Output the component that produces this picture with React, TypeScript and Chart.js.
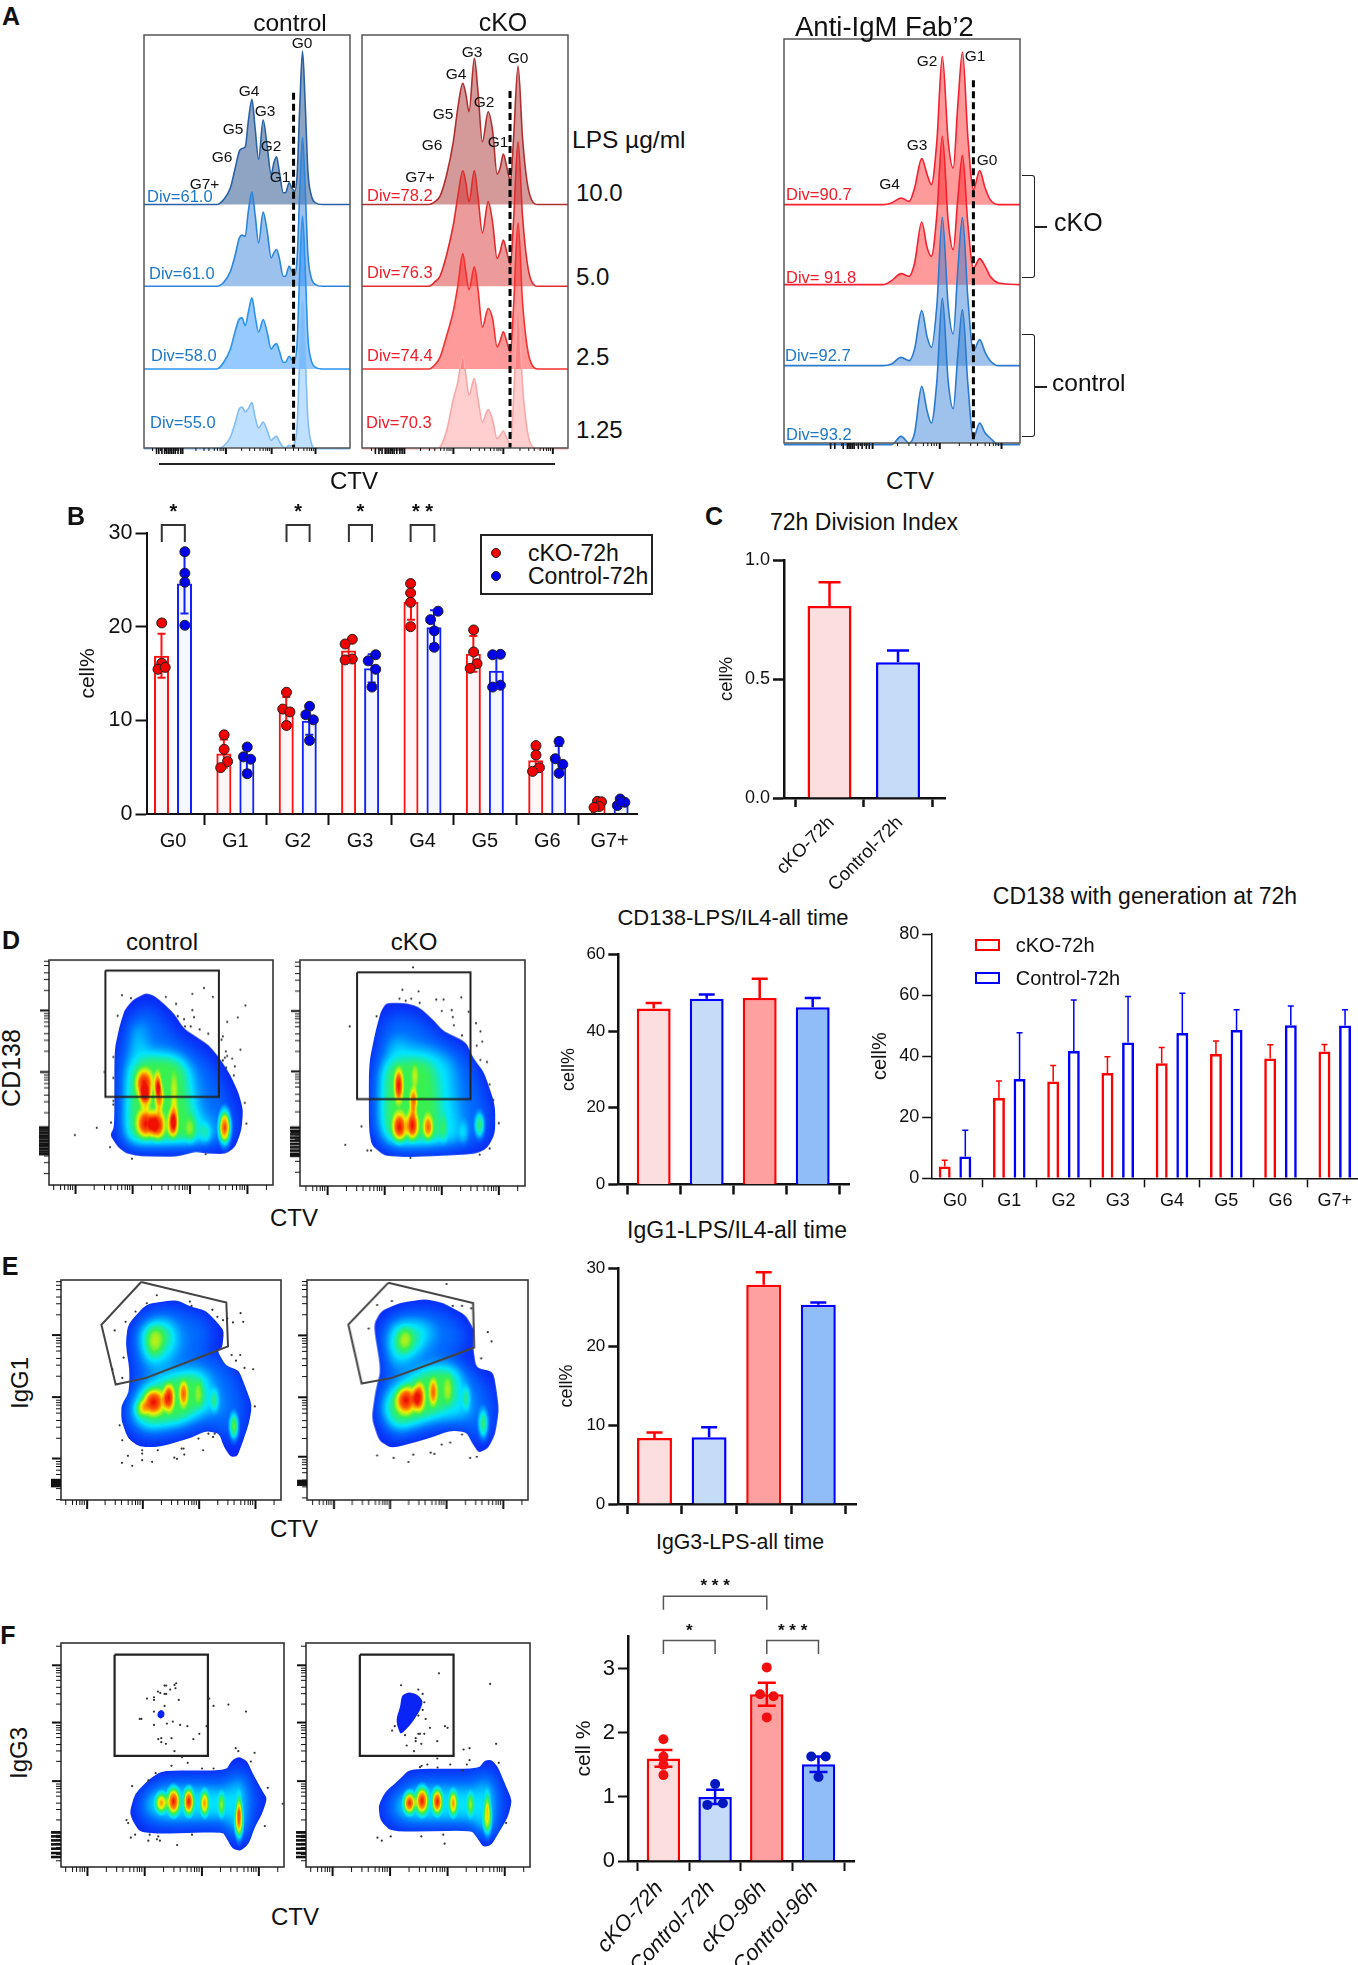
import React, { useEffect, useRef } from "react";
import { Chart, registerables } from "chart.js";

Chart.register(...registerables);
const FONT = '"Liberation Sans", Arial, sans-serif';
Chart.defaults.font.family = FONT;
Chart.defaults.color = "#111";

/* ---------- Panel A: histogram curves ---------- */
const ctrlX = [322,485,500,515,525,535,541,548,555,563,570,578,588,597,606,612,618,624,633,638,646,652,658,664,670,676,682,688,695,705,720,782];
const ctrl10 = [0,0,15,50,105,160,168,172,250,315,230,135,253,175,90,125,143,100,35,35,65,50,40,90,300,460,300,100,30,5,0,0];
const ctrl5 = [0,0,12,45,90,145,153,150,225,283,215,130,222,165,85,100,110,85,30,30,60,45,35,85,290,446,290,95,28,5,0,0];
const ctrl25 = [0,0,20,60,110,150,153,130,170,213,160,110,148,110,60,70,76,55,20,20,38,28,25,80,300,458,300,95,28,5,0,0];
const ctrl125 = [0,0,8,35,75,120,125,110,120,138,95,62,80,55,25,32,37,22,5,3,10,8,15,70,280,445,280,90,20,0,0,0];

const koX = [810,960,975,985,1000,1015,1025,1036,1043,1050,1062,1070,1080,1093,1103,1113,1120,1127,1135,1143,1150,1160,1170,1180,1190,1205,1272];
const ko10 = [0,0,10,25,90,190,290,363,330,278,438,340,188,278,220,91,110,151,110,70,200,415,200,70,15,0,0];
const ko5 = [0,0,15,30,95,185,270,346,310,253,346,270,160,254,190,83,105,138,100,65,200,433,210,75,15,0,0];
const ko25 = [0,0,15,35,100,175,250,346,290,238,306,240,126,181,150,66,85,111,80,50,190,438,200,70,15,0,0];
const ko125 = [0,0,0,5,55,150,200,280,220,160,210,150,80,117,85,30,40,53,30,15,150,430,190,60,10,0,0];

const fabX = [199,435,455,478,497,510,527,540,550,563,576,590,602,613,624,637,650,665,678,690,710,761];
const fabKo1 = [0,0,5,20,10,50,138,90,60,190,445,190,110,300,458,200,45,102,50,15,0,0];
const fabKo2 = [0,0,12,33,25,65,188,110,85,210,445,190,105,260,388,180,50,78,55,25,5,0];
const fabCt1 = [0,0,5,25,15,50,165,85,55,180,445,180,95,290,445,200,45,78,40,15,0,0];
const fabCt2 = [0,0,0,25,5,35,175,100,65,190,440,190,108,270,405,180,20,65,35,20,0,0];

const decadeMinor = [-0.67,-0.49,-0.38,-0.26,-0.19,-0.13,-0.09,-0.05];
const ctrlHistTicks = [408,505,607,705];
const ctrlHistClump = [350,355,362,368,372,376,380,384,388,392,398,404];
const koHistTicks = [905,1015,1127,1238];
const koHistClump = [840,848,855,862,866,870,874,878,882,888,895,900];
const fabTicks = [410,570,717];
const fabClump = [310,320,340,350,354,358,362,366,376,385,395,402];

/* ---------- Panel B ---------- */
const generations = ["G0","G1","G2","G3","G4","G5","G6","G7+"];
const bKo = [16.9,6.45,10.9,17.45,22.65,17.1,5.75,0.95];
const bCt = [24.6,5.85,9.95,15.55,19.95,15.3,5.75,1.3];
const bKoHi = [19.25,7.95,12.5,18.35,24.55,19,6.95,1.25];
const bKoLo = [14.55,4.95,9.3,16.55,20.75,15.2,4.55,0.65];
const bCtHi = [27.8,7.05,11.45,17.05,21.75,17.1,7.25,1.6];
const bCtLo = [21.4,4.65,8.45,14.05,18.15,13.5,4.25,1.0];
const bKoDots = [[-0.18,20.4],[-0.18,16.1],[-0.24,15.45],[-0.125,15.65],[0.82,8.45],[0.82,6.9],[0.875,5.6],[0.765,4.95],[1.82,13],[1.76,11.2],[1.875,10.9],[1.82,9.45],[2.875,18.65],[2.76,18.15],[2.875,16.55],[2.76,16.45],[3.81,24.6],[3.81,23.6],[3.81,22.6],[3.81,20],[4.82,19.65],[4.82,17.3],[4.875,16.05],[4.765,15.55],[5.82,7.3],[5.82,6.3],[5.875,4.95],[5.765,4.55],[6.805,1.35],[6.87,1.3],[6.835,0.8],[6.75,0.7]];
const bCtDots = [[0.19,28],[0.19,25.7],[0.19,24.75],[0.19,20.15],[1.19,7.15],[1.13,6.1],[1.245,5.85],[1.19,4.3],[2.19,11.5],[2.13,10.6],[2.25,10.05],[2.19,7.85],[3.25,17],[3.13,16.35],[3.25,15.45],[3.19,13.55],[4.25,21.65],[4.13,20.75],[4.19,19.55],[4.19,17.8],[5.25,17.05],[5.125,17],[5.25,13.75],[5.125,13.55],[6.19,7.75],[6.13,5.9],[6.25,5.3],[6.19,4.35],[7.17,1.6],[7.245,1.25],[7.125,0.9],[7.18,1.3]];

/* ---------- Panel C, D, E, F bars ---------- */
const cLabels = ["cKO-72h","Control-72h"];
const cValues = [0.807,0.57];
const cHi = [0.907,0.62];
const dValues = [45.9,48.4,48.6,46.2];
const dHi = [47.3,49.5,53.6,48.6];
const eValues = [8.4,8.5,27.9,25.35];
const eHi = [9.1,9.75,29.5,25.65];
const genKo = [3.9,26.3,31.7,34.5,37.7,40.7,39.2,41.5];
const genCt = [7.1,32.5,41.7,44.5,47.6,48.6,50.1,50];
const genKoHi = [5.9,31.9,36.9,39.8,42.8,45,43.7,43.8];
const genCtHi = [15.7,47.7,58.4,59.5,60.6,55.2,56.4,55.2];
const fLabels = ["cKO-72h","Control-72h","cKO-96h","Control-96h"];
const fValues = [1.6,1.0,2.6,1.51];
const fHi = [1.73,1.11,2.78,1.63];
const fLo = [1.47,0.89,2.42,1.39];
const fRedDots = [[0,1.9],[0,1.63],[0,1.5],[0,1.34],[2,3.02],[1.87,2.6],[2.13,2.57],[2,2.24]];
const fBlueDots = [[1,1.2],[0.85,0.875],[1.15,0.9],[2.86,1.63],[3.14,1.63],[3,1.31]];

/* ---------- Panels D, E, F: flow density plots ---------- */
const dCtOutline = [[320,128],[345,135],[375,160],[405,190],[435,235],[470,258],[510,285],[540,320],[575,375],[600,430],[613,480],[608,540],[590,590],[560,612],[500,610],[470,605],[410,620],[300,618],[260,610],[235,590],[212,555],[225,530],[225,300],[240,230],[255,180],[280,148]];
const dCtBlue = [[300,170],[340,165],[400,250],[470,300],[520,340],[560,430],[590,500],[585,570],[500,590],[260,595],[240,540],[240,320],[270,210]];
const dCtCyan = [[280,215],[305,215],[320,295],[350,300],[420,310],[465,360],[480,480],[520,520],[535,585],[270,590],[250,550],[255,350],[275,300]];
const dCtGreen = [[270,355],[320,320],[400,320],[440,350],[450,450],[470,520],[470,575],[280,578],[262,540]];
const dCtSpots = [[500,550,20,32,1],[455,540,18,40,1],[405,420,12,50,1],[405,500,14,50,2],[355,400,12,35,3],[360,440,15,42,3],[315,400,30,42,4],[318,442,20,30,3],[400,522,18,40,3],[320,520,32,42,4],[355,525,25,42,4],[558,533,22,55,6]];
const dCtDots = [[248,134],[275,143],[380,139],[460,130],[495,112],[522,139],[620,165],[411,160],[460,179],[597,201],[235,196],[416,197],[435,206],[465,200],[565,214],[438,228],[455,228],[482,237],[508,250],[552,258],[548,268],[605,298],[561,303],[558,322],[565,317],[580,325],[552,330],[562,352],[588,348],[585,375],[222,320],[195,365],[222,383],[222,452],[222,463],[618,458],[215,517],[172,533],[106,555],[623,520],[212,591],[278,626],[500,612]];
const dCtGate = [[198,60],[540,60],[540,440],[198,440],[198,60]];

const dKoOutline = [[1045,250],[1090,250],[1130,258],[1170,290],[1200,320],[1260,345],[1280,385],[1310,420],[1340,500],[1340,570],[1320,605],[1290,620],[1200,625],[1100,628],[1040,625],[1005,600],[997,560],[997,400],[1015,320],[1030,270]];
const dKoBlue = [[1050,275],[1120,280],[1200,345],[1260,370],[1300,450],[1325,540],[1310,600],[1050,612],[1012,570],[1012,400],[1030,320]];
const dKoCyan = [[1065,330],[1090,350],[1190,370],[1225,400],[1235,500],[1260,600],[1050,610],[1018,560],[1020,420],[1045,380]];
const dKoGreen = [[1040,395],[1150,385],[1180,420],[1190,520],[1195,590],[1050,590],[1035,540]];
const dKoSpots = [[1255,570,15,30,1],[1298,550,16,32,4],[1200,560,12,35,1],[1122,430,10,30,1],[1118,490,12,30,3],[1078,453,14,40,4],[1158,555,15,30,3],[1080,555,22,35,4],[1115,550,18,35,4]];
const dKoDots = [[1117,163],[1088,218],[1132,222],[1080,240],[1097,245],[1112,240],[1135,250],[1180,242],[1200,242],[1248,237],[1222,268],[1195,270],[1225,285],[1228,305],[1268,272],[1250,330],[1288,300],[1300,320],[1305,345],[1290,355],[1300,390],[1318,395],[945,308],[1018,283],[1325,450],[1335,488],[1350,545],[977,553],[933,598],[993,612],[1003,612],[1110,630],[1325,607],[1298,622]];
const dKoGate = [[965,175],[1273,175],[1273,486],[965,486],[965,175]];

const eCtOutline = [[350,90],[385,88],[420,105],[470,120],[500,150],[525,180],[520,230],[505,240],[530,285],[570,300],[590,350],[610,405],[600,460],[580,520],[565,558],[545,560],[525,530],[510,490],[470,482],[420,505],[330,530],[270,530],[235,505],[215,450],[215,405],[238,365],[240,300],[228,220],[235,160],[290,100]];
const eCtBlue = [[350,105],[420,125],[470,145],[495,190],[450,260],[510,260],[560,315],[590,410],[570,490],[555,530],[530,490],[480,465],[400,490],[290,510],[240,480],[232,410],[260,350],[255,290],[245,190],[280,125]];
const eCtCyanA = [[310,140],[370,145],[395,200],[375,265],[310,305],[275,250],[265,180]];
const eCtCyanB = [[270,345],[380,300],[465,290],[505,370],[510,420],[470,430],[400,470],[290,485],[245,450],[240,400]];
const eCtGreenA = [[290,165],[345,160],[370,205],[330,250],[300,270],[280,210]];
const eCtGreenB = [[290,350],[390,310],[455,310],[470,400],[400,450],[290,465],[260,435],[258,400]];
const eCtSpots = [[497,390,14,35,2],[315,212,30,45,1],[450,370,14,40,1],[555,470,16,42,5],[275,415,20,25,2],[403,370,14,38,3],[358,382,18,40,4],[312,395,35,38,4]];
const eCtDots = [[322,73],[292,97],[422,92],[427,105],[490,117],[505,138],[522,148],[535,143],[575,127],[552,155],[583,153],[195,179],[228,153],[258,122],[222,261],[188,296],[218,322],[518,195],[548,253],[574,253],[561,270],[587,292],[613,296],[618,408],[210,465],[218,510],[235,557],[217,578],[248,587],[278,540],[278,550],[278,570],[308,575],[325,540],[375,562],[383,566],[397,535],[403,535],[405,553],[462,540],[448,505],[478,490],[492,500],[497,490]];
const eCtGate = [[275,33],[532,95],[537,227],[430,268],[290,322],[198,342],[155,162],[275,33]];

const eKoOutline = [[1080,985],[1150,975],[1200,985],[1260,1015],[1282,1050],[1280,1095],[1288,1145],[1335,1155],[1345,1210],[1350,1250],[1340,1310],[1320,1345],[1295,1355],[1280,1335],[1262,1305],[1220,1300],[1160,1320],[1060,1345],[1025,1325],[1005,1270],[1015,1205],[1030,1150],[1010,1040],[1030,1005]];
const eKoBlue = [[1080,1000],[1190,1000],[1250,1040],[1270,1090],[1200,1110],[1280,1150],[1325,1200],[1340,1260],[1315,1330],[1290,1330],[1260,1290],[1170,1295],[1060,1325],[1025,1280],[1030,1200],[1045,1130],[1025,1050]];
const eKoCyanA = [[1060,1025],[1150,1025],[1180,1060],[1130,1120],[1060,1150],[1040,1080]];
const eKoCyanB = [[1040,1200],[1150,1140],[1240,1130],[1270,1220],[1270,1270],[1170,1280],[1070,1310],[1030,1260]];
const eKoGreenA = [[1075,1045],[1130,1050],[1130,1090],[1080,1120],[1060,1090]];
const eKoGreenB = [[1055,1210],[1150,1150],[1230,1150],[1235,1230],[1150,1270],[1070,1290],[1040,1250]];
const eKoSpots = [[1262,1220,12,30,2],[1308,1285,15,38,4],[1095,1075,22,30,1],[1213,1200,13,35,1],[1172,1205,12,32,3],[1133,1218,17,34,4],[1098,1225,30,33,4]];
const eKoDots = [[1208,938],[1020,990],[1060,980],[1225,992],[1250,992],[1275,998],[997,1048],[1320,1057],[1330,1080],[1302,1122],[1020,1362],[1065,1368],[1105,1378],[1118,1360],[1165,1355],[1175,1358],[1195,1335],[1218,1330],[1250,1310],[1272,1368],[1290,1365]];
const eKoGate = [[1050,935],[1280,985],[1283,1095],[1180,1130],[1060,1170],[978,1184],[942,1038],[1050,935]];

const fCtOutline = [[340,420],[530,420],[548,390],[570,378],[595,392],[612,430],[640,480],[655,505],[640,550],[618,590],[600,640],[575,662],[550,655],[530,620],[520,605],[330,610],[270,605],[248,570],[240,545],[255,490],[300,445]];
const fCtBlob = [[335,237],[345,245],[344,258],[332,265],[323,257],[325,244]];
const fCtBlue = [[345,440],[540,440],[565,400],[590,420],[610,480],[630,510],[600,570],[590,630],[565,645],[540,610],[530,590],[290,590],[262,545],[280,480]];
const fCtCyan = [[300,490],[350,465],[500,475],[540,480],[555,470],[555,440],[585,440],[590,500],[595,590],[570,620],[545,590],[540,560],[500,565],[340,570],[285,540],[285,510]];
const fCtSpots = [[570,520,14,40,1],[517,523,16,36,2],[466,518,20,38,3],[335,517,28,30,3],[418,513,24,40,4],[372,512,30,42,4],[570,575,20,55,4]];
const fCtDots = [[345,165],[350,165],[375,163],[380,158],[362,177],[378,173],[325,183],[332,187],[345,190],[350,190],[292,204],[313,200],[313,208],[388,208],[345,226],[313,243],[270,265],[275,265],[352,279],[370,273],[392,283],[414,287],[313,283],[472,287],[450,310],[432,326],[366,323],[335,323],[326,326],[335,335],[349,340],[375,362],[398,380],[480,204],[493,226],[538,222],[591,243],[560,353],[568,362],[617,367],[606,393],[415,397],[366,406],[458,414],[493,414],[318,428],[296,450],[247,467],[657,472],[702,520],[648,587],[230,569],[235,578],[256,613],[243,622],[300,613],[296,631],[326,618],[322,627],[331,631],[383,644],[428,613]];
const fKoOutline = [[345,415],[550,415],[570,390],[590,388],[610,410],[635,470],[652,510],[640,560],[610,610],[590,645],[565,650],[545,620],[530,600],[290,605],[255,570],[250,525],[270,485],[310,450]];
const fKoBlob = [[340,185],[365,190],[385,212],[375,240],[350,278],[325,305],[315,310],[305,280],[305,260],[315,230],[320,195]];
const fKoBlue = [[350,435],[550,435],[570,405],[590,410],[615,480],[630,515],[605,580],[585,630],[565,630],[545,590],[300,590],[268,555],[270,510],[310,470]];
const fKoCyan = [[310,500],[360,468],[500,475],[560,480],[560,440],[590,450],[600,540],[595,610],[565,620],[540,570],[500,570],[340,572],[300,545]];
const fKoSpots = [[578,510,14,35,1],[527,522,16,35,2],[475,518,20,38,3],[343,517,28,33,4],[427,513,24,38,4],[381,510,30,42,4],[578,565,20,52,3]];
const fKoDots = [[432,128],[318,164],[370,177],[383,190],[388,215],[383,238],[370,255],[392,265],[405,292],[450,287],[458,292],[299,287],[291,300],[330,314],[370,310],[375,310],[388,310],[362,323],[362,332],[427,332],[379,340],[335,345],[357,362],[586,160],[604,340],[506,357],[524,353],[524,389],[516,402],[612,397],[427,384],[397,402],[375,410],[380,406],[428,411],[466,402],[503,420],[634,578],[247,622],[260,631],[287,618],[379,618],[445,613],[449,640]];
const fGate = [[194,72],[476,72],[476,376],[194,376],[194,72]];

const zoomClump = [532,540,548,556,564,572,580,588,596,604,612];
const koClump = [1425,1428,1431,1434];

/* density palette (rainbow) and the height each spot level adds */
const jetStops = [[0,10,36,246],[0.2,0,110,255],[0.4,0,228,255],[0.6,56,240,80],[0.75,240,240,0],[0.88,255,120,0],[1,240,16,0]];
const spotPeak = [0,0.12,0.2,0.32,0.42,0.52,0.8];
const spotFalloff = [[0,1],[0.4,0.75],[0.7,0.3],[1,0]];
const SPOT_SCALE = 1.4;
const layerHeight = 51;

function jetColor(t: number) {
  for (let i = 1; i < jetStops.length; i++) {
    if (t <= jetStops[i][0]) {
      const a = jetStops[i - 1], b = jetStops[i];
      const f = (t - a[0]) / (b[0] - a[0]);
      return [a[1] + (b[1] - a[1]) * f, a[2] + (b[2] - a[2]) * f, a[3] + (b[3] - a[3]) * f];
    }
  }
  return jetStops[jetStops.length - 1].slice(1);
}

/* ---------- plugins (per chart) ---------- */
function frameTicks(spec: any) {
  return {
    id: "frameTicks",
    afterDraw(chart: any) {
      const { ctx, chartArea: a, scales: { x, y } } = chart;
      ctx.save();
      ctx.strokeStyle = spec.frame || "#444";
      ctx.lineWidth = spec.frameWidth || 1.5;
      ctx.strokeRect(a.left, a.top, a.right - a.left, a.bottom - a.top);
      ctx.strokeStyle = "#111";
      const line = (x0: number, y0: number, x1: number, y1: number, w: number) => {
        ctx.lineWidth = w; ctx.beginPath(); ctx.moveTo(x0, y0); ctx.lineTo(x1, y1); ctx.stroke();
      };
      const b = spec.bottom;
      if (b) {
        const inside = (px: number) => px >= a.left && px <= a.right;
        b.majors.forEach((m: number) => {
          const p = x.getPixelForValue(m);
          if (inside(p)) line(p, a.bottom, p, a.bottom + b.majorLen, 2);
          decadeMinor.forEach((f) => {
            const q = x.getPixelForValue(m + f * b.dec);
            if (inside(q)) line(q, a.bottom, q, a.bottom + b.minorLen, 1);
          });
        });
        (b.clump || []).forEach((c: number) => {
          const p = x.getPixelForValue(c);
          line(p, a.bottom, p, a.bottom + b.majorLen, 1.6);
        });
      }
      const l = spec.left;
      if (l) {
        const inside = (py: number) => py >= a.top && py <= a.bottom;
        l.majors.forEach((m: number) => {
          const p = y.getPixelForValue(m);
          if (inside(p)) line(a.left, p, a.left - 9, p, 2);
          decadeMinor.forEach((f) => {
            const q = y.getPixelForValue(m - f * l.dec);
            if (inside(q)) line(a.left, q, a.left - 5, q, 1);
          });
        });
        (l.clump || []).forEach((c: number) => {
          const p = y.getPixelForValue(c);
          line(a.left, p, a.left - 10, p, 2.6);
        });
      }
      ctx.restore();
    },
  };
}

function density(spec: any) {
  return {
    id: "density",
    beforeDatasetsDraw(chart: any) {
      const { ctx, scales: { x, y } } = chart;
      const W = chart.width, H = chart.height;
      const path = (c: any, pts: number[][]) => {
        const P = pts.map(([a, b]) => [x.getPixelForValue(a), y.getPixelForValue(b)]);
        const n = P.length;
        const toward = (p: number[], q: number[]) => [p[0] + (q[0] - p[0]) * 0.3, p[1] + (q[1] - p[1]) * 0.3];
        P.forEach((p, i) => {
          const a = toward(p, P[(i + n - 1) % n]);
          const b = toward(p, P[(i + 1) % n]);
          if (i === 0) c.moveTo(a[0], a[1]); else c.lineTo(a[0], a[1]);
          c.quadraticCurveTo(p[0], p[1], b[0], b[1]);
        });
        c.closePath();
      };
      /* height field, kept in the red channel and added up */
      const field = document.createElement("canvas");
      field.width = W; field.height = H;
      const f = field.getContext("2d", { willReadFrequently: true }) as any;
      f.fillStyle = "#000";
      f.fillRect(0, 0, W, H);
      f.globalCompositeOperation = "lighter";
      spec.layers.forEach((l: any) => {
        f.filter = `blur(${l.blur}px)`;
        f.fillStyle = `rgb(${layerHeight},0,0)`;
        f.beginPath();
        l.polys.forEach((p: number[][]) => path(f, p));
        f.fill();
      });
      f.filter = "none";
      const boost = spec.boost || 1;
      const narrow = spec.narrow || 1;
      spec.spots.forEach(([cx, cy, rx, ry, level]: number[]) => {
        const px = x.getPixelForValue(cx), py = y.getPixelForValue(cy);
        const w = Math.abs(x.getPixelForValue(cx + rx) - px) * SPOT_SCALE * narrow, h = Math.abs(y.getPixelForValue(cy + ry) - py) * SPOT_SCALE;
        f.save();
        f.translate(px, py);
        f.scale(w, h);
        const g = f.createRadialGradient(0, 0, 0, 0, 0, 1);
        spotFalloff.forEach(([o, v]) => g.addColorStop(o, `rgba(255,0,0,${Math.min(1, spotPeak[level] * boost * v)})`));
        f.fillStyle = g;
        f.beginPath();
        f.arc(0, 0, 1, 0, Math.PI * 2);
        f.fill();
        f.restore();
      });
      const img = f.getImageData(0, 0, W, H);
      const d = img.data;
      for (let i = 0; i < d.length; i += 4) {
        const c = jetColor(d[i] / 255);
        d[i] = c[0]; d[i + 1] = c[1]; d[i + 2] = c[2]; d[i + 3] = 255;
      }
      f.globalCompositeOperation = "source-over";
      f.putImageData(img, 0, 0);
      ctx.save();
      ctx.beginPath();
      spec.outline.forEach((p: number[][]) => path(ctx, p));
      ctx.clip();
      ctx.drawImage(field, 0, 0, W, H);
      ctx.restore();
    },
  };
}

const errorBars = {
  id: "errorBars",
  afterDatasetDraw(chart: any, args: any) {
    const ds = chart.data.datasets[args.index];
    if (!ds.errHi) return;
    const { ctx, scales: { y } } = chart;
    ctx.save();
    args.meta.data.forEach((el: any, i: number) => {
      const col = Array.isArray(ds.borderColor) ? ds.borderColor[i] : ds.borderColor;
      ctx.strokeStyle = col;
      ctx.lineWidth = ds.errWidth;
      const ends = [ds.errHi[i]];
      if (ds.errLo) ends.push(ds.errLo[i]);
      ends.forEach((v: number) => {
        const p = y.getPixelForValue(v);
        ctx.beginPath();
        ctx.moveTo(el.x, y.getPixelForValue(ds.data[i].y));
        ctx.lineTo(el.x, p);
        ctx.moveTo(el.x - ds.capW, p);
        ctx.lineTo(el.x + ds.capW, p);
        ctx.stroke();
      });
    });
    ctx.restore();
  },
};

function sigMarks(list: any[], opt: any) {
  return {
    id: "sig",
    afterDraw(chart: any) {
      const { ctx, scales: { x, y } } = chart;
      ctx.save();
      ctx.strokeStyle = opt.color;
      ctx.lineWidth = opt.width;
      ctx.fillStyle = "#111";
      ctx.font = `bold ${opt.size}px ${FONT}`;
      ctx.textAlign = "center";
      ctx.textBaseline = "middle";
      list.forEach((s) => {
        const a = x.getPixelForValue(s.x0), b = x.getPixelForValue(s.x1);
        ctx.beginPath();
        ctx.moveTo(a, y.getPixelForValue(s.arm));
        ctx.lineTo(a, y.getPixelForValue(s.top));
        ctx.lineTo(b, y.getPixelForValue(s.top));
        ctx.lineTo(b, y.getPixelForValue(s.arm));
        ctx.stroke();
        ctx.fillText(s.text, (a + b) / 2, y.getPixelForValue(s.textY) + opt.size * 0.2);
      });
      ctx.restore();
    },
  };
}

/* ---------- chart builders ---------- */
function histChart(o: any) {
  const pad = { left: 4, right: 4, top: 4, bottom: 12 };
  const curves = o.curves.map((c: any, i: number) => ({
    type: "line",
    data: o.x.map((v: number, k: number) => ({ x: v, y: c.base + c.h[k] })),
    borderColor: c.stroke,
    backgroundColor: c.fill,
    borderWidth: 1.6,
    pointRadius: 0,
    cubicInterpolationMode: "monotone",
    fill: { value: c.base },
    order: 10 - i,
    clip: 5,
  }));
  const dash = {
    type: "line",
    data: [{ x: o.dash[0], y: o.dash[1] }, { x: o.dash[0], y: 0 }],
    borderColor: "#000",
    borderWidth: 3,
    borderDash: [7, 4],
    pointRadius: 0,
    fill: false,
    order: 0,
  };
  return {
    type: "line",
    data: { datasets: [...curves, dash] },
    options: {
      responsive: false, animation: false, devicePixelRatio: 1, events: [],
      layout: { padding: pad },
      plugins: { legend: { display: false }, tooltip: { enabled: false } },
      scales: {
        x: { type: "linear", display: false, min: o.x[0], max: o.x[o.x.length - 1] },
        y: { type: "linear", display: false, min: 0, max: o.yMax },
      },
    },
    plugins: [frameTicks({ frame: "#555", bottom: o.bottom })],
  };
}

function flowChart(o: any) {
  const pad = { left: 12, right: 3, top: 3, bottom: 12 };
  const datasets: any[] = [
    { type: "scatter", data: o.gate.map(([x, y]: number[]) => ({ x, y })), showLine: true, tension: 0, borderColor: o.gateColor || "#222", borderWidth: o.gateWidth || 2, pointRadius: 0, order: 2, clip: false },
    { type: "scatter", data: o.dots.map(([x, y]: number[]) => ({ x, y })), pointRadius: 1.1, pointBackgroundColor: "#333", pointBorderWidth: 0, order: 1, clip: false },
  ];
  return {
    type: "scatter",
    data: { datasets },
    options: {
      responsive: false, animation: false, devicePixelRatio: 1, events: [],
      layout: { padding: pad },
      plugins: { legend: { display: false }, tooltip: { enabled: false } },
      scales: {
        x: { type: "linear", display: false, min: o.xr[0], max: o.xr[1] },
        y: { type: "linear", display: false, min: o.yr[0], max: o.yr[1], reverse: true },
      },
    },
    plugins: [density(o), frameTicks({ frame: "#333", frameWidth: 1.6, bottom: o.bottom, left: o.leftTicks })],
  };
}
const flowBox = (l: number, t: number, r: number, b: number) => [l - 12, t - 3, r + 3, b + 12];

function barChart(o: any) {
  const [cl, ct, cr, cb] = o.box;
  const [pl, pt, pr, pb] = o.plot;
  const bars = o.series.map((s: any) => ({
    type: "bar",
    data: s.values.map((v: number, i: number) => ({ x: i, y: v })),
    backgroundColor: s.fill,
    borderColor: s.color,
    borderWidth: o.barBorder,
    categoryPercentage: o.catPct,
    barPercentage: o.barPct,
    errHi: s.hi,
    errLo: s.lo,
    errWidth: o.errWidth,
    capW: o.capW,
    order: 5,
    clip: false,
  }));
  const dots = (o.dots || []).map((d: any) => ({
    type: "scatter",
    data: d.pts.map(([x, y]: number[]) => ({ x, y })),
    pointRadius: d.r,
    pointBackgroundColor: d.color,
    pointBorderColor: d.edge,
    pointBorderWidth: d.edgeW,
    order: 1,
    clip: false,
  }));
  return {
    type: "bar",
    data: { datasets: [...bars, ...dots] },
    options: {
      responsive: false, animation: false, devicePixelRatio: 1, events: [],
      layout: { padding: { left: 0, top: pt - ct, right: cr - pr, bottom: 0 } },
      plugins: { legend: { display: false }, tooltip: { enabled: false } },
      scales: {
        x: {
          type: "linear",
          offset: false,
          min: -(o.c0 - pl) / o.sp,
          max: (pr - o.c0) / o.sp,
          afterBuildTicks: (s: any) => { s.ticks = o.labels.map((_: any, i: number) => ({ value: i })); },
          afterFit: (s: any) => { s.height = cb - pb; },
          grid: { drawOnChartArea: false, drawTicks: true, tickLength: o.xTickLen, tickWidth: o.tickW, tickColor: "#111" },
          border: { color: "#111", width: o.axisW },
          ticks: {
            autoSkip: false,
            maxRotation: o.rot || 0,
            minRotation: o.rot || 0,
            padding: o.xPad,
            labelOffset: o.labelOffset || 0,
            color: "#111",
            font: { size: o.xFont, style: o.italic ? "italic" : "normal" },
            callback: (v: number) => o.labels[v] ?? "",
          },
        },
        y: {
          type: "linear",
          min: 0,
          max: o.yMax,
          afterBuildTicks: (s: any) => { s.ticks = o.yTicks.map((v: number) => ({ value: v })); },
          afterFit: (s: any) => { s.width = pl - cl; },
          grid: { drawOnChartArea: false, drawTicks: true, tickLength: o.yTickLen, tickWidth: o.tickW, tickColor: "#111" },
          border: { color: "#111", width: o.axisW },
          title: { display: true, text: o.yTitle, color: "#111", padding: 0, font: { size: o.yTitleFont } },
          ticks: {
            padding: o.yPad,
            color: "#111",
            font: { size: o.yFont },
            callback: (v: number) => (o.yFixed ? v.toFixed(o.yFixed) : String(v)),
          },
        },
      },
    },
    plugins: [errorBars, ...(o.sig ? [sigMarks(o.sig, o.sigOpt)] : [])],
  };
}

/* ---------- components ---------- */
function Plot({ box, make }: any) {
  const ref = useRef<HTMLCanvasElement>(null);
  useEffect(() => {
    const c = new Chart(ref.current as any, make());
    return () => c.destroy();
  }, []);
  const [l, t, r, b] = box;
  return <canvas ref={ref} width={r - l} height={b - t} style={{ position: "absolute", left: l, top: t, width: r - l, height: b - t }} />;
}

function T({ x, y, s, size = 15, color = "#111", bold = false, anchor = "c", rot = 0 }: any) {
  const tx = anchor === "l" ? "0" : "-50%";
  return (
    <div style={{ position: "absolute", left: x, top: y, transform: `translate(${tx},-50%) rotate(${rot}deg)`, fontSize: size, color, fontWeight: bold ? 700 : 400, lineHeight: 1, whiteSpace: "nowrap" }}>
      {s}
    </div>
  );
}

function Shape({ l, t, w, h, style }: any) {
  return <div style={{ position: "absolute", left: l, top: t, width: w, height: h, boxSizing: "border-box", ...style }} />;
}

const BLUE_TXT = "#1e78c8";
const RED_TXT = "#f01c28";
const fillPink = "#fddede", fillSky = "#c5dcf8", fillRose = "#ffa0a0", fillAzure = "#90bdf8";
const four = { color: ["#ff0000","#0000ff","#ff0000","#0000ff"], fill: [fillPink, fillSky, fillRose, fillAzure] };

const histBox = (l: number, t: number, r: number, b: number) => [l - 4, t - 4, r + 4, b + 12];

const flowLayers = (blue: any, cyan: any[], green: any[]) => [
  { blur: 9, polys: [blue] },
  { blur: 7, polys: cyan },
  ...(green.length ? [{ blur: 6, polys: green }] : []),
];

const PLOTS: any[] = [
  { box: histBox(144, 35, 350, 448), make: () => histChart({ x: ctrlX, yMax: 1238, dash: [656, 1065], bottom: { majors: ctrlHistTicks, dec: 100, majorLen: 6, minorLen: 3, clump: ctrlHistClump }, curves: [
    { h: ctrl10, base: 730, stroke: "#2a62a8", fill: "rgba(50,90,145,0.55)" },
    { h: ctrl5, base: 485, stroke: "#2a86dc", fill: "rgba(45,125,215,0.48)" },
    { h: ctrl25, base: 237, stroke: "#2b92ee", fill: "rgba(30,140,255,0.47)" },
    { h: ctrl125, base: -2, stroke: "#82bdf6", fill: "rgba(60,160,255,0.33)" },
  ] }) },
  { box: histBox(362, 35, 568, 448), make: () => histChart({ x: koX, yMax: 1238, dash: [1142, 1070], bottom: { majors: koHistTicks, dec: 110, majorLen: 6, minorLen: 3, clump: koHistClump }, curves: [
    { h: ko10, base: 730, stroke: "#b03030", fill: "rgba(160,30,30,0.45)" },
    { h: ko5, base: 485, stroke: "#e02c2c", fill: "rgba(215,30,30,0.45)" },
    { h: ko25, base: 237, stroke: "#f53030", fill: "rgba(255,30,30,0.45)" },
    { h: ko125, base: -2, stroke: "#f8a8a8", fill: "rgba(255,60,60,0.25)" },
  ] }) },
  { box: histBox(784, 38.7, 1020, 443), make: () => histChart({ x: fabX, yMax: 1212, dash: [650, 1088], bottom: { majors: fabTicks, dec: 150, majorLen: 6, minorLen: 3, clump: fabClump }, curves: [
    { h: fabKo1, base: 715, stroke: "#f52030", fill: "rgba(255,30,30,0.45)" },
    { h: fabKo2, base: 475, stroke: "#f52030", fill: "rgba(255,30,30,0.45)" },
    { h: fabCt1, base: 232, stroke: "#2a7ad0", fill: "rgba(40,120,210,0.45)" },
    { h: fabCt2, base: -5, stroke: "#2a7ad0", fill: "rgba(40,120,210,0.45)" },
  ] }) },
  { box: [76, 490, 660, 860], make: () => barChart({
    box: [76, 490, 660, 860], plot: [146.5, 533, 637, 814], c0: 173, sp: 62.37, labels: generations, yMax: 30, yTicks: [0,10,20,30],
    series: [
      { values: bKo, hi: bKoHi, lo: bKoLo, color: "#ff1010", fill: "rgba(255,0,0,0.03)" },
      { values: bCt, hi: bCtHi, lo: bCtLo, color: "#1020ff", fill: "rgba(0,60,255,0.04)" },
    ],
    dots: [
      { pts: bKoDots, r: 5, color: "#f00000", edge: "#222", edgeW: 1 },
      { pts: bCtDots, r: 5, color: "#0000e8", edge: "#222", edgeW: 1 },
    ],
    barBorder: 2, catPct: 0.738, barPct: 0.652, errWidth: 2, capW: 4, axisW: 2, tickW: 2, xTickLen: 11, yTickLen: 11, xPad: 4, yPad: 3,
    xFont: 20, yFont: 21.5, yTitle: "cell%", yTitleFont: 21,
    sig: [
      { x0: -0.18, x1: 0.19, top: 30.85, arm: 29.05, textY: 32.6, text: "*" },
      { x0: 1.82, x1: 2.19, top: 30.85, arm: 29.05, textY: 32.6, text: "*" },
      { x0: 2.82, x1: 3.19, top: 30.85, arm: 29.05, textY: 32.6, text: "*" },
      { x0: 3.81, x1: 4.19, top: 30.85, arm: 29.05, textY: 32.6, text: "* *" },
    ],
    sigOpt: { color: "#333", width: 2, size: 20 },
  }) },
  { box: [716, 540, 960, 900], make: () => barChart({
    box: [716, 540, 960, 900], plot: [784, 560, 945, 798], c0: 829.5, sp: 68.5, labels: cLabels, yMax: 1, yTicks: [0,0.5,1], yFixed: 1,
    series: [{ values: cValues, hi: cHi, color: ["#ff0000","#0000ff"], fill: [fillPink, fillSky] }],
    barBorder: 2.5, catPct: 1, barPct: 0.642, errWidth: 2.5, capW: 11, axisW: 2.5, tickW: 2.5, xTickLen: 9, yTickLen: 11, xPad: 5, yPad: 3, labelOffset: 2,
    xFont: 18.5, yFont: 18, yTitle: "cell%", yTitleFont: 18.5, rot: 45,
  }) },
  { box: [558, 940, 860, 1205], make: () => barChart({
    box: [558, 940, 860, 1205], plot: [618.3, 954.3, 849, 1184.5], c0: 653.7, sp: 53, labels: ["","","",""], yMax: 60, yTicks: [0,20,40,60],
    series: [{ values: dValues, hi: dHi, ...four }],
    barBorder: 2.5, catPct: 1, barPct: 0.64, errWidth: 2.5, capW: 8, axisW: 2.5, tickW: 2.5, xTickLen: 10, yTickLen: 10, xPad: 2, yPad: 3,
    xFont: 10, yFont: 17, yTitle: "cell%", yTitleFont: 18,
  }) },
  { box: [556, 1255, 866, 1525], make: () => barChart({
    box: [556, 1255, 866, 1525], plot: [618.3, 1267, 856, 1504], c0: 654.5, sp: 54.6, labels: ["","","",""], yMax: 30, yTicks: [0,10,20,30],
    series: [{ values: eValues, hi: eHi, ...four }],
    barBorder: 2.5, catPct: 1, barPct: 0.64, errWidth: 2.5, capW: 8, axisW: 2.5, tickW: 2.5, xTickLen: 10, yTickLen: 10, xPad: 2, yPad: 3,
    xFont: 10, yFont: 17, yTitle: "cell%", yTitleFont: 18,
  }) },
  { box: [868, 920, 1358, 1215], make: () => barChart({
    box: [868, 920, 1358, 1215], plot: [931.7, 934, 1358, 1178.3], c0: 955, sp: 54.25, labels: generations, yMax: 80, yTicks: [0,20,40,60,80],
    series: [
      { values: genKo, hi: genKoHi, color: "#ff0000", fill: "rgba(255,255,255,0)" },
      { values: genCt, hi: genCtHi, color: "#0000ff", fill: "rgba(255,255,255,0)" },
    ],
    barBorder: 2.5, catPct: 0.76, barPct: 0.58, errWidth: 1.5, capW: 3, axisW: 1.5, tickW: 1.5, xTickLen: 9, yTickLen: 9.5, xPad: 3, yPad: 3,
    xFont: 18, yFont: 18, yTitle: "cell%", yTitleFont: 20,
  }) },
  { box: [571.5, 1560, 870, 1965], make: () => barChart({
    box: [571.5, 1560, 870, 1965], plot: [627.5, 1636, 854, 1861], c0: 663, sp: 51.8, labels: fLabels, yMax: 3.51, yTicks: [0,1,2,3],
    series: [{ values: fValues, hi: fHi, lo: fLo, ...four }],
    dots: [
      { pts: fRedDots, r: 5, color: "#f01010", edge: "#f01010", edgeW: 0 },
      { pts: fBlueDots, r: 5, color: "#0018c0", edge: "#0018c0", edgeW: 0 },
    ],
    barBorder: 2.5, catPct: 1, barPct: 0.647, errWidth: 2.5, capW: 9, axisW: 2.5, tickW: 2, xTickLen: 10, yTickLen: 10, xPad: 5, yPad: 3, labelOffset: -4,
    xFont: 22, yFont: 22, yTitle: "cell %", yTitleFont: 21, rot: 48, italic: true,
    sig: [
      { x0: 0, x1: 1, top: 3.44, arm: 3.23, textY: 3.64, text: "*" },
      { x0: 2, x1: 3, top: 3.44, arm: 3.23, textY: 3.64, text: "* * *" },
      { x0: 0, x1: 2, top: 4.13, arm: 3.92, textY: 4.34, text: "* * *" },
    ],
    sigOpt: { color: "#555", width: 1.5, size: 17 },
  }) },
  { box: flowBox(49.3, 959.3, 274.3, 1185), make: () => flowChart({
    xr: [28, 703], yr: [28, 705], outline: [dCtOutline], gate: dCtGate, dots: dCtDots, spots: dCtSpots, gateWidth: 2, narrow: 0.85,
    layers: flowLayers(dCtBlue, [dCtCyan], [dCtGreen]),
    bottom: { majors: [108,280,453,626,799], dec: 173, majorLen: 9, minorLen: 5 },
    leftTicks: { majors: [-3,180,365,548], dec: 183, clump: zoomClump },
  }) },
  { box: flowBox(300, 959.3, 526, 1186), make: () => flowChart({
    xr: [810, 1421], yr: [145, 699], outline: [dKoOutline], gate: dKoGate, dots: dKoDots, spots: dKoSpots, gateWidth: 2, narrow: 0.85,
    layers: flowLayers(dKoBlue, [dKoCyan], [dKoGreen]),
    bottom: { majors: [885,1040,1195,1350,1505], dec: 155, majorLen: 9, minorLen: 5 },
    leftTicks: { majors: [122,270,418,566], dec: 148, clump: [556,564,572,580,588,596,604,612,620,625] },
  }) },
  { box: flowBox(61, 1279, 282, 1500), make: () => flowChart({
    xr: [33, 697], yr: [27, 690], outline: [eCtOutline], gate: eCtGate, dots: eCtDots, spots: eCtSpots, gateColor: "#444", gateWidth: 2, narrow: 0.9,
    layers: flowLayers(eCtBlue, [eCtCyanA, eCtCyanB], [eCtGreenA, eCtGreenB]),
    bottom: { majors: [112,280,450,620,790], dec: 170, majorLen: 9, minorLen: 5 },
    leftTicks: { majors: [8,193,380,565], dec: 185, clump: [630,636,642,648] },
  }) },
  { box: flowBox(307.4, 1279, 529, 1500), make: () => flowChart({
    xr: [830, 1429], yr: [928, 1472], outline: [eKoOutline], gate: eKoGate, dots: eKoDots, spots: eKoSpots, gateColor: "#444", gateWidth: 2, narrow: 0.9,
    layers: flowLayers(eKoBlue, [eKoCyanA, eKoCyanB], [eKoGreenA, eKoGreenB]),
    bottom: { majors: [903,1055,1208,1362,1515], dec: 153, majorLen: 9, minorLen: 5 },
    leftTicks: { majors: [912,1065,1218,1365], dec: 152, clump: koClump },
  }) },
  { box: flowBox(60.7, 1642, 285, 1867), make: () => flowChart({
    xr: [32, 706], yr: [37, 710], outline: [fCtOutline, fCtBlob], gate: fGate, dots: fCtDots, spots: fCtSpots, gateWidth: 2.2, boost: 1.45, narrow: 0.62,
    layers: flowLayers(fCtBlue, [fCtCyan], []),
    bottom: { majors: [112,285,458,630,803], dec: 173, majorLen: 9, minorLen: 5 },
    leftTicks: { majors: [-70,104,276,452,606], dec: 174, clump: [606,618,630,642,655,668,680] },
  }) },
  { box: flowBox(305.6, 1642, 531, 1867), make: () => flowChart({
    xr: [32, 706], yr: [37, 710], outline: [fKoOutline, fKoBlob], gate: fGate, dots: fKoDots, spots: fKoSpots, gateWidth: 2.2, boost: 1.45, narrow: 0.62,
    layers: flowLayers(fKoBlue, [fKoCyan], []),
    bottom: { majors: [112,285,458,630,803], dec: 173, majorLen: 9, minorLen: 5 },
    leftTicks: { majors: [-70,104,276,452,606], dec: 174, clump: [606,618,630,642,655,668,680] },
  }) },
];

const GEN_LABELS: any[] = [
  [302,43,"G0"],[249,91,"G4"],[265,111,"G3"],[233,129,"G5"],[271,146,"G2"],[222,157,"G6"],[280,177,"G1"],[204.5,184,"G7+"],
  [472,52,"G3"],[518,58,"G0"],[456,74,"G4"],[484,102,"G2"],[443,114,"G5"],[498,142,"G1"],[432,145,"G6"],[420,177,"G7+"],
  [927,61,"G2"],[975,56,"G1"],[917,145,"G3"],[987,160,"G0"],[889.5,184,"G4"],
];
const DIV_LABELS: any[] = [
  [147,196,"Div=61.0",BLUE_TXT],[149,273,"Div=61.0",BLUE_TXT],[151,355,"Div=58.0",BLUE_TXT],[150,422,"Div=55.0",BLUE_TXT],
  [367,195,"Div=78.2",RED_TXT],[367,272,"Div=76.3",RED_TXT],[367,355,"Div=74.4",RED_TXT],[366,422,"Div=70.3",RED_TXT],
  [786,194,"Div=90.7",RED_TXT],[786,277,"Div= 91.8",RED_TXT],[785,355,"Div=92.7",BLUE_TXT],[786,434,"Div=93.2",BLUE_TXT],
];

export default function App() {
  return (
    <div style={{ position: "absolute", left: 0, top: 0, width: 1358, height: 1965, background: "#fff", overflow: "hidden", fontFamily: FONT }}>
      {PLOTS.map((p, i) => <Plot key={i} box={p.box} make={p.make} />)}

      {/* panel letters */}
      <T x={11} y={16} s="A" size={25} bold />
      <T x={76} y={516} s="B" size={25} bold />
      <T x={714} y={516} s="C" size={25} bold />
      <T x={11} y={940} s="D" size={25} bold />
      <T x={10} y={1266} s="E" size={25} bold />
      <T x={8} y={1635} s="F" size={25} bold />

      {/* panel A text */}
      <T x={290} y={23} s="control" size={24.5} />
      <T x={503} y={22} s="cKO" size={25} />
      <T x={572} y={140} s="LPS µg/ml" size={24.5} anchor="l" />
      <T x={576} y={193} s="10.0" size={24} anchor="l" />
      <T x={576} y={277} s="5.0" size={24} anchor="l" />
      <T x={576} y={357} s="2.5" size={24} anchor="l" />
      <T x={576} y={430} s="1.25" size={24} anchor="l" />
      <Shape l={159} t={463} w={396} h={2} style={{ background: "#222" }} />
      <T x={354} y={481} s="CTV" size={24} />
      <T x={795} y={27} s="Anti-IgM Fab’2" size={27.5} anchor="l" />
      <T x={910} y={481} s="CTV" size={24} />
      {GEN_LABELS.map(([x, y, s], i) => <T key={i} x={x} y={y} s={s} size={15.5} />)}
      {DIV_LABELS.map(([x, y, s, c], i) => <T key={i} x={x} y={y} s={s} size={16.5} color={c} anchor="l" />)}

      {/* brackets */}
      <Shape l={1022} t={175} w={13} h={103} style={{ border: "1.5px solid #222", borderLeft: "none", borderRadius: "0 3px 3px 0" }} />
      <Shape l={1035} t={226} w={12} h={1.5} style={{ background: "#222" }} />
      <T x={1054} y={222} s="cKO" size={25} anchor="l" />
      <Shape l={1022} t={334} w={13} h={103} style={{ border: "1.5px solid #222", borderLeft: "none", borderRadius: "0 3px 3px 0" }} />
      <Shape l={1035} t={386} w={12} h={1.5} style={{ background: "#222" }} />
      <T x={1052} y={383} s="control" size={24.5} anchor="l" />

      {/* panel B legend */}
      <Shape l={480} t={534} w={173} h={61} style={{ border: "2px solid #222", background: "#fff" }} />
      <Shape l={491} t={548} w={10} h={10} style={{ background: "#f00000", border: "1px solid #222", borderRadius: "50%" }} />
      <Shape l={491} t={571} w={10} h={10} style={{ background: "#0000e8", border: "1px solid #222", borderRadius: "50%" }} />
      <T x={528} y={553} s="cKO-72h" size={23} anchor="l" />
      <T x={528} y={576} s="Control-72h" size={23} anchor="l" />

      {/* bar titles */}
      <T x={864} y={522} s="72h Division Index" size={23} />
      <T x={733} y={918} s="CD138-LPS/IL4-all time" size={22} />
      <T x={1145} y={896} s="CD138 with generation at 72h" size={23} />
      <T x={737} y={1230} s="IgG1-LPS/IL4-all time" size={23} />
      <T x={740} y={1543} s="IgG3-LPS-all time" size={21.3} />

      {/* generation chart legend */}
      <Shape l={975} t={939} w={24.5} h={12} style={{ border: "2.5px solid #ff0000" }} />
      <Shape l={975} t={972} w={24.5} h={12} style={{ border: "2.5px solid #0000ff" }} />
      <T x={1015.7} y={945} s="cKO-72h" size={20} anchor="l" />
      <T x={1015.7} y={978} s="Control-72h" size={20} anchor="l" />

      {/* flow text */}
      <T x={162} y={942} s="control" size={24} />
      <T x={414} y={942} s="cKO" size={24} />
      <T x={11} y={1068} s="CD138" size={25} rot={-90} />
      <T x={294} y={1218} s="CTV" size={24} />
      <T x={20} y={1383} s="IgG1" size={24} rot={-90} />
      <T x={294} y={1529} s="CTV" size={24} />
      <T x={18.5} y={1753} s="IgG3" size={24} rot={-90} />
      <T x={295} y={1917} s="CTV" size={24} />
    </div>
  );
}
